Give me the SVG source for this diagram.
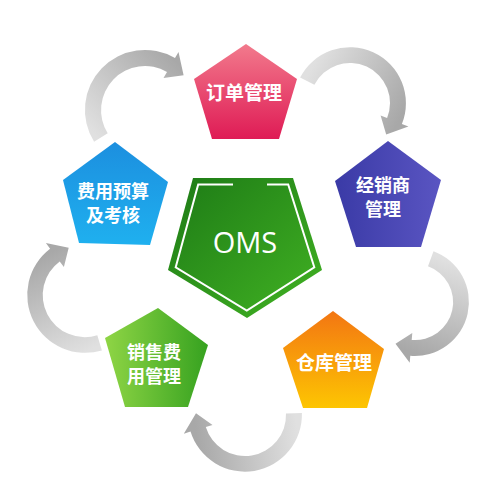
<svg xmlns="http://www.w3.org/2000/svg" width="500" height="500" viewBox="0 0 500 500">
<style>
.lbl{font-family:"Noto Sans CJK SC","Noto Sans",sans-serif;font-weight:bold;fill:#ffffff;text-anchor:middle;font-size:19px}
.two{font-size:18px}
.oms{font-family:"Open Sans","Noto Sans",sans-serif;fill:#ffffff;text-anchor:middle;font-size:29px}
</style>
<defs>
<linearGradient id="gRed" x1="0" y1="0" x2="0" y2="1"><stop offset="0" stop-color="#f27a8c"/><stop offset="1" stop-color="#df1b55"/></linearGradient>
<linearGradient id="gPur" x1="0" y1="0" x2="1" y2="0"><stop offset="0" stop-color="#3a3aa6"/><stop offset="1" stop-color="#5a55c2"/></linearGradient>
<linearGradient id="gOra" x1="0" y1="0" x2="0" y2="1"><stop offset="0" stop-color="#f37612"/><stop offset="1" stop-color="#fdc502"/></linearGradient>
<linearGradient id="gGrn" x1="0" y1="0" x2="1" y2="0"><stop offset="0" stop-color="#8fd545"/><stop offset="1" stop-color="#36a220"/></linearGradient>
<linearGradient id="gBlu" x1="0" y1="0" x2="0" y2="1"><stop offset="0" stop-color="#1c8fdf"/><stop offset="1" stop-color="#1fb0ef"/></linearGradient>
<linearGradient id="gOms" x1="0" y1="0" x2="1" y2="1"><stop offset="0" stop-color="#1d7a16"/><stop offset="1" stop-color="#42b323"/></linearGradient>
<linearGradient id="a1" gradientUnits="userSpaceOnUse" x1="100" y1="140" x2="180" y2="65"><stop offset="0" stop-color="#e0e0e0"/><stop offset="1" stop-color="#a8a8a8"/></linearGradient>
<linearGradient id="a2" gradientUnits="userSpaceOnUse" x1="305" y1="80" x2="395" y2="128"><stop offset="0" stop-color="#e0e0e0"/><stop offset="1" stop-color="#a8a8a8"/></linearGradient>
<linearGradient id="a3" gradientUnits="userSpaceOnUse" x1="432" y1="255" x2="400" y2="348"><stop offset="0" stop-color="#e0e0e0"/><stop offset="1" stop-color="#a8a8a8"/></linearGradient>
<linearGradient id="a4" gradientUnits="userSpaceOnUse" x1="295" y1="413" x2="195" y2="425"><stop offset="0" stop-color="#e0e0e0"/><stop offset="1" stop-color="#a8a8a8"/></linearGradient>
<linearGradient id="a5" gradientUnits="userSpaceOnUse" x1="100" y1="345" x2="55" y2="250"><stop offset="0" stop-color="#e0e0e0"/><stop offset="1" stop-color="#a8a8a8"/></linearGradient>
</defs>
<rect width="500" height="500" fill="#ffffff"/>
<g id="connectors">
<path fill="url(#a1)" d="M94.1,141.8 A60,60 0 0 1 175,58 L178.5,52 L183.6,75.2 L163.5,78 L167,71.9 A44,44 0 0 0 107.7,133.3 Z"/>
<path fill="url(#a2)" d="M300.1,77.6 A56,56 0 0 1 401.9,124 L408.4,126.6 L386.2,134.5 L380.6,115.4 L387.1,118 A40,40 0 0 0 314.4,84.8 Z"/>
<path fill="url(#a3)" d="M433.5,251.3 A54,54 0 0 1 410.3,355.8 L409.7,362.8 L395.5,343.7 L412.3,332.9 L411.7,339.9 A38,38 0 0 0 428,266.3 Z"/>
<path fill="url(#a4)" d="M301.9,413 A57,57 0 0 1 190.5,431.6 L183.8,433.7 L196,413.3 L212.5,424.9 L205.8,427 A41,41 0 0 0 286,413.6 Z"/>
<path fill="url(#a5)" d="M101.9,350.4 A58,58 0 0 1 50.1,248.7 L45.9,243.1 L68.7,247.7 L63.9,267 L59.7,261.4 A42,42 0 0 0 97.3,335.2 Z"/>
</g>
<g id="node-oms">
<polygon points="193,178 293,178 322,270 247,318 168,270" fill="url(#gOms)"/>
<path d="M267,184.5 L288.2,184.5 L314.3,267.3 L246.8,310.5 L175.7,267.3 L198.2,184.5 L233,184.5" fill="none" stroke="#ffffff" stroke-width="2"/>
<text class="oms" x="245" y="253">OMS</text>
</g>
<g id="node-order">
<polygon points="246,44 297,79 279,139 212,139 194,79" fill="url(#gRed)"/>
<text class="lbl" x="244" y="100">订单管理</text>
</g>
<g id="node-dealer">
<polygon points="388,141 441,180 421,247 356,247 335,181" fill="url(#gPur)"/>
<text class="lbl two" x="383" y="192">经销商</text>
<text class="lbl two" x="383" y="216">管理</text>
</g>
<g id="node-warehouse">
<polygon points="333,311 384,349 367,408 303,408 283,348" fill="url(#gOra)"/>
<text class="lbl" x="334" y="370">仓库管理</text>
</g>
<g id="node-sales">
<polygon points="158,308 208,345 188,407 125,407 105,338" fill="url(#gGrn)"/>
<text class="lbl two" x="154" y="359">销售费</text>
<text class="lbl two" x="154" y="383">用管理</text>
</g>
<g id="node-budget">
<polygon points="115,142 168,182 150,245 79,243 63,180" fill="url(#gBlu)"/>
<text class="lbl two" x="113" y="198">费用预算</text>
<text class="lbl two" x="113" y="222">及考核</text>
</g>
</svg>
